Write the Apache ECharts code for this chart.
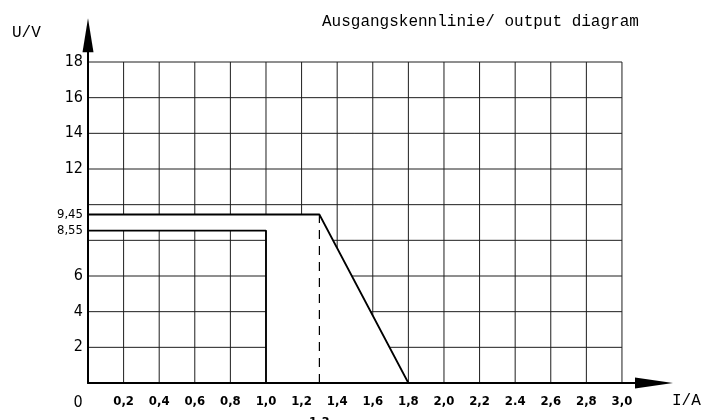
<!DOCTYPE html>
<html>
<head>
<meta charset="utf-8">
<script src="https://cdn.jsdelivr.net/npm/echarts@6/dist/echarts.min.js"></script>
<style>
  html, body { margin: 0; padding: 0; background: #fff; }
  #chart { width: 701px; height: 420px; }
</style>
</head>
<body>
<div id="chart"></div>
<script>
'use strict';

// output characteristic (I in A, U in V)
var outerCurve = [[0, 9.45], [1.3, 9.45], [1.8, 0]];
var innerCurve = [[0, 8.55], [1.0, 8.55], [1.0, 0]];
var foldbackLine = [[1.3, 0], [1.3, 9.45]];

// grid lines
var xGrid = [0.2, 0.4, 0.6, 0.8, 1.0, 1.2, 1.4, 1.6, 1.8, 2.0, 2.2, 2.4, 2.6, 2.8, 3.0];
var yGrid = [2, 4, 6, 8, 10, 12, 14, 16, 18];

// tick labels
var xLabelValues = [0, 0.2, 0.4, 0.6, 0.8, 1.0, 1.2, 1.4, 1.6, 1.8, 2.0, 2.2, 2.4, 2.6, 2.8, 3.0, 1.3];
var xLabelTexts = ['0', '0,2', '0,4', '0,6', '0,8', '1,0', '1,2', '1,4', '1,6', '1,8', '2,0', '2,2', '2.4', '2,6', '2,8', '3,0', '1,3'];
var yLabelValues = [2, 4, 6, 8.55, 9.45, 12, 14, 16, 18];
var yLabelTexts = ['2', '4', '6', '8,55', '9,45', '12', '14', '16', '18'];

var FONT = '"DejaVu Sans Condensed", "DejaVu Sans", sans-serif';
var MONO = '"Liberation Mono", "DejaVu Sans Mono", monospace';

function findText(values, texts, v) {
  for (var i = 0; i < values.length; i++) {
    if (Math.abs(values[i] - v) < 1e-6) return texts[i];
  }
  return '';
}

// grid drawn as custom series so it can stop at 3,0 / 18 and be hidden under the curve
function gridSeries(xLimit, yLimit, z) {
  var lines = [];
  xGrid.forEach(function (x) { if (x <= xLimit) lines.push([0, x]); });
  yGrid.forEach(function (y) { if (y <= yLimit) lines.push([1, y]); });
  return {
    type: 'custom',
    z: z,
    silent: true,
    data: lines,
    renderItem: function (params, api) {
      var item = lines[params.dataIndex];
      var a, b;
      if (item[0] === 0) {
        a = api.coord([item[1], 0]);
        b = api.coord([item[1], yLimit]);
      } else {
        a = api.coord([0, item[1]]);
        b = api.coord([xLimit, item[1]]);
      }
      return {
        type: 'line',
        shape: { x1: a[0], y1: a[1], x2: b[0], y2: b[1] },
        style: { stroke: '#1e1e1e', lineWidth: 1 }
      };
    }
  };
}

var chart = echarts.init(document.getElementById('chart'));

chart.setOption({
  animation: false,
  backgroundColor: '#fff',
  title: [
    { text: 'Ausgangskennlinie/ output diagram', left: 317, top: 9,
      textStyle: { fontFamily: MONO, fontSize: 16, fontWeight: 'normal', color: '#000' } },
    { text: 'U/V', left: 7, top: 20,
      textStyle: { fontFamily: MONO, fontSize: 16, fontWeight: 'normal', color: '#000' } },
    { text: 'I/A', left: 667, top: 388,
      textStyle: { fontFamily: MONO, fontSize: 16, fontWeight: 'normal', color: '#000' } }
  ],
  grid: { left: 88, right: 47, top: 35.25, bottom: 37, containLabel: false, outerBoundsMode: 'none' },
  xAxis: {
    type: 'value',
    min: 0,
    max: 3.18,
    z: 10,
    axisLine: {
      show: true,
      symbol: ['none', 'triangle'],
      symbolSize: [11, 38],
      lineStyle: { color: '#000', width: 2 }
    },
    axisTick: { show: false },
    splitLine: { show: false },
    axisLabel: {
      customValues: xLabelValues,
      margin: 12,
      color: '#000',
      formatter: function (v) {
        var t = findText(xLabelValues, xLabelTexts, v);
        if (Math.abs(v) < 1e-6) return '{z|' + t + '}';
        if (Math.abs(v - 1.3) < 1e-6) return '{m|' + t + '}';
        return '{b|' + t + '}';
      },
      rich: {
        b: { fontFamily: FONT, fontSize: 13, fontWeight: 'bold', color: '#000' },
        m: { fontFamily: FONT, fontSize: 13, fontWeight: 'bold', color: '#000', padding: [21, 0, 0, 0] },
        z: { fontFamily: FONT, fontSize: 16, color: '#000', padding: [0, 20, 0, 0] }
      }
    }
  },
  yAxis: {
    type: 'value',
    min: 0,
    max: 19.5,
    z: 10,
    axisLine: {
      show: true,
      symbol: ['none', 'triangle'],
      symbolSize: [11, 34],
      lineStyle: { color: '#000', width: 2 }
    },
    axisTick: { show: false },
    splitLine: { show: false },
    axisLabel: {
      customValues: yLabelValues,
      margin: 5,
      color: '#000',
      formatter: function (v) {
        var t = findText(yLabelValues, yLabelTexts, v);
        return (v === 8.55 || v === 9.45) ? '{s|' + t + '}' : '{n|' + t + '}';
      },
      rich: {
        n: { fontFamily: FONT, fontSize: 16, color: '#000' },
        s: { fontFamily: FONT, fontSize: 13, color: '#000' }
      }
    }
  },
  series: [
    gridSeries(3.0, 18, 1),
    {
      // white fill hides the grid between the two characteristics
      type: 'line',
      z: 2,
      silent: true,
      symbol: 'none',
      data: outerCurve,
      lineStyle: { width: 0 },
      areaStyle: { color: '#fff', opacity: 1 }
    },
    gridSeries(1.0, 8.55, 3),
    {
      type: 'line',
      z: 4,
      silent: true,
      symbol: 'none',
      data: outerCurve,
      lineStyle: { color: '#000', width: 1.8 }
    },
    {
      type: 'line',
      z: 4,
      silent: true,
      symbol: 'none',
      data: innerCurve,
      lineStyle: { color: '#000', width: 1.8 }
    },
    {
      type: 'line',
      z: 4,
      silent: true,
      symbol: 'none',
      data: foldbackLine,
      lineStyle: { color: '#000', width: 1.2, type: [9, 7] }
    }
  ]
});
</script>
</body>
</html>
